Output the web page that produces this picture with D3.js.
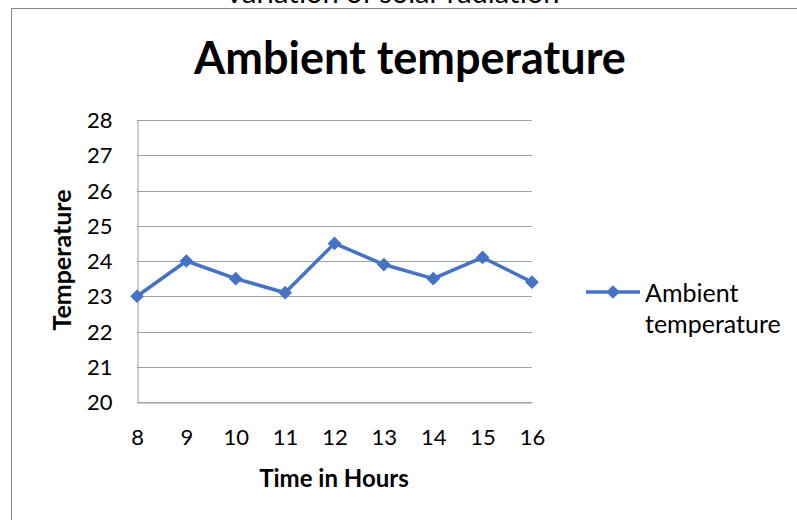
<!DOCTYPE html>
<html>
<head>
<meta charset="utf-8">
<script src="https://cdn.jsdelivr.net/npm/d3@7"></script>
<style>
  body { margin: 0; background: #fff; }
  text { font-family: Lato, "Open Sans", sans-serif; fill: #000; }
</style>
</head>
<body>
<div id="chart"></div>
<script>
// data
let hours = [8, 9, 10, 11, 12, 13, 14, 15, 16];
let temperature = [23, 24, 23.5, 23.1, 24.5, 23.9, 23.5, 24.1, 23.4];
let yTicks = [20, 21, 22, 23, 24, 25, 26, 27, 28];
let seriesName = "Ambient temperature";

let width = 797, height = 520;
let plot = {left: 137, right: 532, top: 120, bottom: 402};

let svg = d3.select("#chart").append("svg")
    .attr("width", width)
    .attr("height", height);

// clipped title of the chart above
svg.append("text")
    .attr("x", 392)
    .attr("y", 3)
    .attr("text-anchor", "middle")
    .style("font-size", "29px")
    .text("Variation of solar radiation");

// outer chart border
svg.append("rect")
    .attr("x", 11.5)
    .attr("y", 8.5)
    .attr("width", 800)
    .attr("height", 520)
    .attr("fill", "#fff")
    .attr("stroke", "#888")
    .attr("stroke-width", 1);

// scales
let x = d3.scaleLinear().domain([8, 16]).range([plot.left, plot.right]);
let y = d3.scaleLinear().domain([20, 28]).range([plot.bottom, plot.top]);

// gridlines
svg.append("g")
    .selectAll("line")
    .data(yTicks)
    .enter()
    .append("line")
    .attr("x1", plot.left)
    .attr("x2", plot.right)
    .attr("y1", d => Math.round(y(d)) + 0.5)
    .attr("y2", d => Math.round(y(d)) + 0.5)
    .attr("stroke", "#a0a0a0")
    .attr("stroke-width", 1);

// y axis
let yAxis = svg.append("g")
    .attr("transform", `translate(${plot.left + 0.5},0)`)
    .call(d3.axisLeft(y).tickValues(yTicks).tickSize(0).tickPadding(25).tickFormat(d3.format("d")));
yAxis.select(".domain").attr("stroke", "#a0a0a0");
yAxis.selectAll("text").style("font-size", "22px").attr("dy", "0.35em").attr("font-family", null);

// x axis
let xAxis = svg.append("g")
    .attr("transform", `translate(0,${Math.round(plot.bottom) + 0.5})`)
    .call(d3.axisBottom(x).tickValues(hours).tickSize(0).tickPadding(27).tickFormat(d3.format("d")));
xAxis.select(".domain").attr("stroke", "#a0a0a0");
xAxis.selectAll("text").style("font-size", "22px").attr("font-family", null);

// axis titles
svg.append("text")
    .attr("transform", "translate(71,260) rotate(-90)")
    .attr("text-anchor", "middle")
    .style("font-size", "25px")
    .style("font-weight", "bold")
    .text("Temperature");

svg.append("text")
    .attr("x", 334)
    .attr("y", 487)
    .attr("text-anchor", "middle")
    .style("font-size", "24px")
    .style("font-weight", "bold")
    .text("Time in Hours");

// chart title
svg.append("text")
    .attr("x", 410)
    .attr("y", 74)
    .attr("text-anchor", "middle")
    .style("font-size", "45px")
    .style("font-weight", "bold")
    .text(seriesName);

// line
let line = d3.line()
    .x((d, i) => x(hours[i]))
    .y(d => y(d));

svg.append("path")
    .datum(temperature)
    .attr("d", line)
    .attr("fill", "none")
    .attr("stroke", "#4472c4")
    .attr("stroke-width", 3.5)
    .attr("stroke-linejoin", "round");

let diamond = d3.symbol().type(d3.symbolDiamond2).size(120);

svg.append("g")
    .selectAll("path")
    .data(temperature)
    .enter()
    .append("path")
    .attr("d", diamond)
    .attr("transform", (d, i) => `translate(${x(hours[i])},${y(d)})`)
    .attr("fill", "#4472c4");

// legend
let legend = svg.append("g").attr("transform", "translate(586,292)");
legend.append("line")
    .attr("x1", 0).attr("x2", 54)
    .attr("stroke", "#4472c4")
    .attr("stroke-width", 3.5);
legend.append("path")
    .attr("d", diamond)
    .attr("transform", "translate(27,0)")
    .attr("fill", "#4472c4");
legend.append("text")
    .attr("x", 59)
    .attr("y", 10)
    .style("font-size", "25px")
    .text("Ambient");
legend.append("text")
    .attr("x", 59)
    .attr("y", 41)
    .style("font-size", "25px")
    .text("temperature");
</script>
</body>
</html>
